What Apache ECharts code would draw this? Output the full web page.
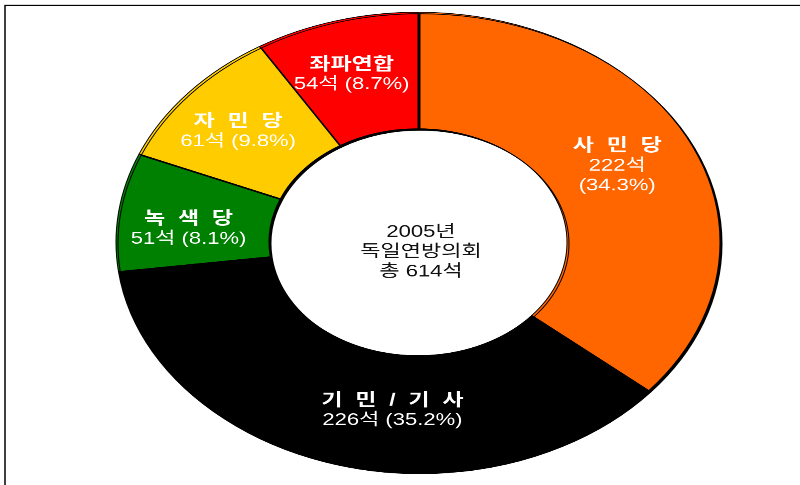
<!DOCTYPE html>
<html>
<head>
<meta charset="utf-8">
<script src="https://cdn.jsdelivr.net/npm/echarts@6/dist/echarts.min.js"></script>
<style>
html, body { margin: 0; padding: 0; background: #fff; overflow: hidden; }
#wrap { width: 800px; height: 485px; overflow: hidden; position: relative; }
/* the original donut is an ellipse, so draw a circle and squash it */
#main { width: 800px; height: 637px; transform: scaleY(0.7616); transform-origin: 0 0; }
</style>
</head>
<body>
<div id="wrap"><div id="main"></div></div>
<script>
// 2005 독일 연방의회 의석
var parties = ['사민당', '기민/기사', '녹색당', '자민당', '좌파연합'];
var partyLabels = ['사  민  당', '기  민  /  기  사', '녹  색  당', '자  민  당', '좌파연합'];
var seats = [222, 226, 51, 61, 54];
var shares = ['34.3%', '35.2%', '8.1%', '9.8%', '8.7%'];
var colors = ['#ff6600', '#000000', '#008000', '#ffcc00', '#ff0000'];
var centerLines = ['2005년', '독일연방의회', '총 614석'];

// label nudges (px, before squash)
var nudge = [[-8, -4], [39, 2], [-3, 13], [-6, 3], [-4, 0]];

var font = '"Liberation Sans", "Noto Sans CJK KR", sans-serif';

var data = parties.map(function (p, i) {
    return {
        name: p,
        value: seats[i],
        itemStyle: { color: colors[i] },
        label: { offset: nudge[i] }
    };
});

var myChart = echarts.init(document.getElementById('main'), null, { renderer: 'canvas', devicePixelRatio: 2 });

var option = {
    animation: false,
    backgroundColor: '#fff',
    graphic: [
        {
            type: 'rect',
            shape: { x: 5, y: 7, width: 1000, height: 1000 },
            style: { fill: 'none', stroke: '#000', lineWidth: 1.5 },
            z: 0
        },
        {
            type: 'text',
            x: 421,
            y: 331,
            style: {
                text: centerLines.join('\n'),
                font: '22px ' + font,
                lineHeight: 26,
                fill: '#111',
                align: 'center',
                verticalAlign: 'middle'
            },
            z: 10
        }
    ],
    series: [{
        type: 'pie',
        center: [418, 318],
        radius: [149, 302],
        startAngle: 90,
        clockwise: true,
        silent: true,
        emphasis: { disabled: true },
        itemStyle: {
            borderColor: '#000',
            borderWidth: 1,
            shadowColor: '#000',
            shadowBlur: 0,
            shadowOffsetX: 2,
            shadowOffsetY: 2
        },
        label: {
            show: true,
            position: 'inside',
            color: '#fff',
            fontFamily: font,
            formatter: function (p) {
                var i = p.dataIndex;
                var sep = i === 0 ? '\n' : ' ';
                return '{n|' + partyLabels[i] + '}\n{v|' + seats[i] + '석' + sep + '(' + shares[i] + ')}';
            },
            rich: {
                n: { fontSize: 23, fontWeight: 'bold', color: '#fff', fontFamily: font, lineHeight: 26 },
                v: { fontSize: 22, color: '#fff', fontFamily: font, lineHeight: 26 }
            }
        },
        labelLine: { show: false },
        data: data
    }]
};
myChart.setOption(option);
</script>
</body>
</html>
